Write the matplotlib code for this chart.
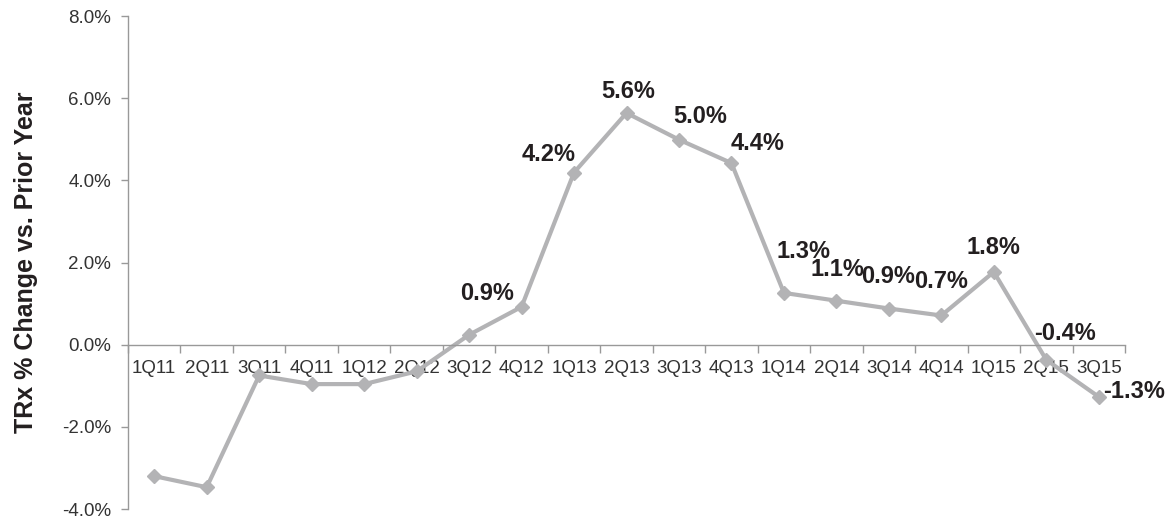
import numpy as np
import matplotlib
matplotlib.use("Agg")
import matplotlib.pyplot as plt

plt.rcParams["font.family"] = ["Liberation Sans", "DejaVu Sans"]

# quarters on the x axis
quarters = ["1Q11", "2Q11", "3Q11", "4Q11", "1Q12", "2Q12", "3Q12", "4Q12",
            "1Q13", "2Q13", "3Q13", "4Q13", "1Q14", "2Q14", "3Q14", "4Q14",
            "1Q15", "2Q15", "3Q15"]

# TRx % change vs prior year
trx_change = [-3.20, -3.47, -0.75, -0.96, -0.96, -0.65, 0.24, 0.92,
              4.19, 5.64, 4.99, 4.42, 1.26, 1.07, 0.88, 0.71,
              1.77, -0.37, -1.27]

# data labels shown on the chart ("" = no label)
point_labels = ["", "", "", "", "", "", "", "0.9%",
                "4.2%", "5.6%", "5.0%", "4.4%", "1.3%", "1.1%", "0.9%", "0.7%",
                "1.8%", "-0.4%", "-1.3%"]

# where each label sits relative to its point (pixels)
label_offsets = [(0, 0)] * 7 + [(-34, 13), (-25, 18), (2, 21), (21, 23), (26, 20),
                                (20, 41), (1, 31), (-1, 32), (0, 34), (0, 24),
                                (19, 26), (35, 5)]

fig = plt.figure(figsize=(11.7, 5.19), dpi=100)
ax = fig.add_axes([128 / 1170, 1 - 509 / 519, (1125 - 128) / 1170, (509 - 16) / 519])

x = np.arange(len(quarters))
ax.plot(x, trx_change, color="#b3b3b5", linewidth=3, marker="D",
        markersize=7, markerfacecolor="#b3b3b5", markeredgecolor="#b3b3b5")

for i, txt in enumerate(point_labels):
    if txt:
        ax.annotate(txt, (x[i], trx_change[i]), xytext=label_offsets[i],
                    textcoords="offset pixels", ha="center", va="center",
                    fontsize=17, fontweight="bold", color="#231f20")

ax.set_xlim(-0.5, len(quarters) - 0.5)
ax.set_ylim(-4, 8)

# y axis
ax.set_yticks(np.arange(-4, 8.1, 2))
ax.set_yticklabels([f"{v:.1f}%" for v in np.arange(-4, 8.1, 2)])
ax.tick_params(axis="y", direction="out", length=5, width=1, color="#999999",
               labelsize=13.5, labelcolor="#333333", pad=7)
ax.set_ylabel("TRx % Change vs. Prior Year", fontsize=18, fontweight="bold",
              color="#231f20", labelpad=17)

# x axis sits on the zero line; ticks between categories, labels at centres
ax.spines["bottom"].set_position(("data", 0))
ax.set_xticks(np.arange(-0.5, len(quarters), 1))
ax.set_xticklabels([""] * (len(quarters) + 1))
ax.set_xticks(x, minor=True)
ax.set_xticklabels(quarters, minor=True)
ax.tick_params(axis="x", which="major", direction="out", length=6, width=1,
               color="#999999")
ax.tick_params(axis="x", which="minor", length=0, labelsize=13.5,
               labelcolor="#333333", pad=11)

for side in ["top", "right"]:
    ax.spines[side].set_visible(False)
for side in ["left", "bottom"]:
    ax.spines[side].set_color("#999999")
    ax.spines[side].set_linewidth(1)

fig.savefig("out.png", dpi=100)
